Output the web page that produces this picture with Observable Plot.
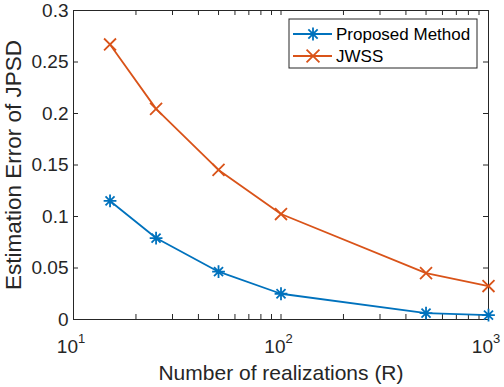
<!DOCTYPE html>
<html>
<head>
<meta charset="utf-8">
<script src="https://cdn.jsdelivr.net/npm/d3@7"></script>
<script src="https://cdn.jsdelivr.net/npm/@observablehq/plot@0.6"></script>
<style>
  html, body { margin: 0; padding: 0; background: #fff; }
  #chart { position: relative; width: 504px; height: 387px; }
  svg { font-family: "Liberation Sans", Arial, Helvetica, sans-serif; }
</style>
</head>
<body>
<div id="chart"></div>
<script>
// Number of realizations (R) and the JPSD estimation error of each method
const realizations = [15, 25, 50, 100, 500, 1000];
const proposedError = [0.1151, 0.0791, 0.0464, 0.0250, 0.0062, 0.0043];
const jwssError = [0.2670, 0.2045, 0.1452, 0.1024, 0.0451, 0.0325];

const seriesNames = ["Proposed Method", "JWSS"];
const seriesColors = ["#0072BD", "#D95319"];

const yTicks = [0, 0.05, 0.1, 0.15, 0.2, 0.25, 0.3];
const yTickLabels = ["0", "0.05", "0.1", "0.15", "0.2", "0.25", "0.3"];
const xMajorTicks = [10, 100, 1000];
const xExponents = ["1", "2", "3"];
const xMinorTicks = [20, 30, 40, 50, 60, 70, 80, 90, 200, 300, 400, 500, 600, 700, 800, 900];

const rows = [
  ...realizations.map((r, i) => ({r, err: proposedError[i], method: seriesNames[0]})),
  ...realizations.map((r, i) => ({r, err: jwssError[i], method: seriesNames[1]}))
];

// MATLAB-style eight-spoke asterisk
const asterisk8 = {
  draw(context, size) {
    const r = Math.sqrt(size) * 0.6;
    const d = r * Math.SQRT1_2;
    context.moveTo(0, -r); context.lineTo(0, r);
    context.moveTo(-r, 0); context.lineTo(r, 0);
    context.moveTo(-d, -d); context.lineTo(d, d);
    context.moveTo(-d, d); context.lineTo(d, -d);
  }
};

const W = 504, H = 387;
const mLeft = 73, mRight = 16, mTop = 10, mBottom = 68;
const innerH = H - mTop - mBottom;
const innerW = W - mLeft - mRight;
const tickLen = 5;
const ink = "#262626";
const tickFont = 19;

const allX = [...xMajorTicks, ...xMinorTicks];

const plot = Plot.plot({
  width: W,
  height: H,
  marginLeft: mLeft,
  marginRight: mRight,
  marginTop: mTop,
  marginBottom: mBottom,
  style: {fontFamily: '"Liberation Sans", Arial, sans-serif', background: "#fff", color: ink},
  x: {type: "log", domain: [10, 1000], axis: null},
  y: {domain: [0, 0.3], axis: null},
  color: {domain: seriesNames, range: seriesColors},
  marks: [
    // inward ticks on all four sides
    Plot.tickX(allX, {x: d => d, insetTop: innerH - tickLen, stroke: ink, strokeWidth: 1}),
    Plot.tickX(allX, {x: d => d, insetBottom: innerH - tickLen, stroke: ink, strokeWidth: 1}),
    Plot.tickY(yTicks, {y: d => d, insetRight: innerW - tickLen, stroke: ink, strokeWidth: 1}),
    Plot.tickY(yTicks, {y: d => d, insetLeft: innerW - tickLen, stroke: ink, strokeWidth: 1}),
    Plot.frame({stroke: ink, strokeWidth: 1}),
    // y tick labels
    Plot.text(yTicks, {y: d => d, text: (d, i) => yTickLabels[i], frameAnchor: "left", textAnchor: "end", dx: -5, fontSize: tickFont, fill: ink}),
    // x tick labels as 10^n
    Plot.text(xMajorTicks, {x: d => d, text: () => "10", frameAnchor: "bottom", textAnchor: "end", lineAnchor: "bottom", dx: 4.5, dy: 33, fontSize: tickFont, fill: ink}),
    Plot.text(xMajorTicks, {x: d => d, text: (d, i) => xExponents[i], frameAnchor: "bottom", textAnchor: "start", lineAnchor: "bottom", dx: 4.5, dy: 23.5, fontSize: 13, fill: ink}),
    // axis titles
    Plot.text(["Number of realizations (R)"], {frameAnchor: "bottom", lineAnchor: "bottom", dy: 60, fontSize: 21, fill: ink}),
    Plot.text(["Estimation Error of JPSD"], {frameAnchor: "left", textAnchor: "middle", rotate: -90, lineAnchor: "top", dx: -68, fontSize: 22.5, fill: ink}),
    // series
    Plot.line(rows, {x: "r", y: "err", z: "method", stroke: "method", strokeWidth: 1.8}),
    Plot.dot(rows.filter(d => d.method === seriesNames[0]), {x: "r", y: "err", symbol: asterisk8, r: 6, stroke: seriesColors[0], strokeWidth: 1.8}),
    Plot.dot(rows.filter(d => d.method === seriesNames[1]), {x: "r", y: "err", symbol: "times", r: 5.5, stroke: seriesColors[1], strokeWidth: 1.8})
  ]
});

document.getElementById("chart").appendChild(plot);

// legend box in the upper-right corner of the axes
const svg = d3.select(plot);
const lg = svg.append("g").attr("transform", "translate(289,19)");
lg.append("rect").attr("width", 188).attr("height", 49).attr("fill", "#fff").attr("stroke", ink).attr("stroke-width", 1);
const symbolPaths = [
  d3.symbol(asterisk8, 120)(),
  d3.symbol(d3.symbolTimes, 110)()
];
seriesNames.forEach((name, i) => {
  const yy = 15 + i * 22;
  const row = lg.append("g").attr("transform", `translate(0,${yy})`);
  row.append("line").attr("x1", 4).attr("x2", 43).attr("y1", 0).attr("y2", 0)
    .attr("stroke", seriesColors[i]).attr("stroke-width", 1.8);
  row.append("path").attr("d", symbolPaths[i]).attr("transform", "translate(24,0)")
    .attr("fill", "none").attr("stroke", seriesColors[i]).attr("stroke-width", 1.8);
  row.append("text").attr("x", 47).attr("y", 0).attr("dy", "0.35em")
    .attr("text-anchor", "start")
    .attr("font-size", 17).attr("fill", "#000").text(name);
});
</script>
</body>
</html>
